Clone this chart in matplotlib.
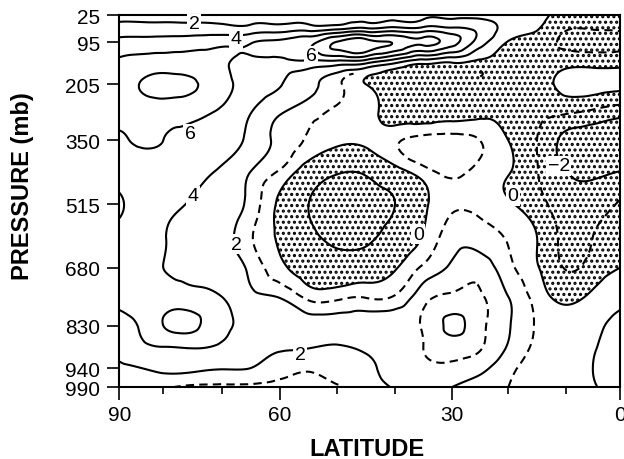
import numpy as np
import matplotlib
matplotlib.use("Agg")
import matplotlib.pyplot as plt
import matplotlib.tri as mtri
from matplotlib.ticker import FixedLocator, NullLocator

plt.rcParams['font.family'] = ['Liberation Sans', 'DejaVu Sans']
plt.rcParams['hatch.color'] = 'black'
plt.rcParams['hatch.linewidth'] = 1.5

# grid
lat = np.array([90, 85, 80, 75, 70, 65, 60, 55, 50, 45, 40, 35, 30, 25, 20, 15, 10, 5, 0])
pressure = np.array([25, 60, 95, 150, 205, 280, 350, 430, 515, 600, 680, 755, 830, 885, 940, 990])
field = np.array([
    [1.3, 1.3, 1.3, 1.3, 1.3, 1.3, 1.3, 1.3, 1.3, 1.3, 1.3, 1.3, 1.3, 1.2, 1.05, 0.4, -0.4, -0.5, -0.5],
    [2.8, 2.8, 2.8, 2.8, 2.7, 2.7, 2.9, 3.1, 3.5, 4.2, 4.6, 4.6, 4.3, 3.4, 1.2, 0.1, -0.9, -0.95, -0.9],
    [4.6, 4.7, 4.8, 5.0, 5.4, 5.8, 6.4, 7.5, 10.1, 11.0, 9.8, 8.5, 6.8, 3.0, -0.1, -0.6, -1.2, -1.3, -1.2],
    [6.4, 6.8, 7.0, 7.0, 6.3, 5.3, 5.2, 5.2, 4.8, 4.1, 2.0, 0.3, -0.2, -0.5, -0.5, -0.6, -0.3, -0.3, -0.3],
    [7.3, 8.1, 8.6, 8.2, 6.8, 5.0, 4.1, 2.5, 1.2, 0.0, -0.7, -0.7, -0.7, -0.7, -0.7, -0.5, 0.3, 0.4, 0.3],
    [6.5, 6.7, 6.8, 6.5, 5.6, 4.0, 2.1, 1.3, 0.8, 0.4, -0.4, -0.4, -0.3, -0.2, -0.4, -0.8, -0.95, -1.3, -1.7],
    [5.9, 6.1, 6.0, 5.6, 5.0, 3.4, 1.6, 0.9, 0.25, 0.3, 0.8, 1.4, 1.5, 1.0, 0.0, -1.0, -2.3, -2.5, -2.5],
    [5.0, 5.1, 5.0, 4.5, 3.7, 2.0, 0.9, -0.8, -1.8, -1.7, -0.5, 0.6, 1.3, 0.6, 0.05, -0.95, -2.0, -2.2, -2.0],
    [3.8, 4.4, 4.3, 3.9, 3.0, 1.6, -0.3, -2.0, -2.6, -2.6, -2.0, -0.3, 0.8, 0.6, 0.1, -0.6, -1.6, -1.5, -0.9],
    [4.5, 4.5, 4.1, 3.2, 2.5, 1.1, -0.2, -1.5, -2.5, -2.4, -1.2, 0.1, 1.5, 1.5, 0.9, 0.0, -1.2, -1.0, -0.6],
    [4.3, 4.1, 4.0, 3.5, 3.0, 1.7, 0.3, -0.6, -1.0, -0.8, -0.1, 1.2, 2.2, 2.6, 1.3, 0.1, -1.05, -0.6, 0.0],
    [4.2, 4.5, 4.9, 4.7, 4.0, 2.4, 1.9, 0.7, 0.7, 0.9, 1.1, 2.6, 3.2, 3.1, 2.0, 0.6, -0.3, 0.2, 0.3],
    [3.4, 4.3, 6.0, 6.4, 4.6, 3.4, 2.8, 2.6, 2.5, 2.6, 2.8, 3.1, 4.2, 3.3, 2.1, 0.9, 0.5, 0.3, -0.5],
    [2.6, 3.6, 4.0, 4.2, 3.7, 2.6, 2.2, 2.1, 1.9, 2.2, 2.5, 3.0, 3.5, 3.1, 1.9, 0.8, 0.5, 0.1, -0.6],
    [1.8, 2.0, 2.3, 2.3, 2.1, 2.0, 1.4, 1.1, 1.4, 1.8, 2.4, 2.8, 2.8, 2.3, 1.3, 0.6, 0.5, 0.0, -0.8],
    [1.5, 1.3, 1.1, 0.8, 0.8, 0.7, 0.7, 0.8, 0.9, 1.5, 2.1, 2.5, 2.0, 1.5, 1.0, 0.6, 0.4, 0.1, -0.6],
])

pressure_ticks = [25, 95, 205, 350, 515, 680, 830, 940, 990]
lat_ticks = [90, 60, 30, 0]
lat_minor = [80, 70, 50, 40, 20, 10]

solid_levels = [-2, 0, 2, 4, 6, 8, 10]
contour_labels = [
    ("2", 74.7, 48), ("4", 67.5, 87), ("6", 54.6, 131), ("6", 75.4, 333),
    ("4", 74.9, 494), ("2", 67.4, 619), ("0", 35.9, 593), ("0", 19.2, 494),
    ("\u22122", 11.2, 416), ("2", 56.5, 904),
]

# the latitude axis of the original is squeezed between 90 and 80
knot_lat = np.array([-90, 0, 10, 20, 30, 40, 50, 60, 70, 80, 90, 180])
knot_pos = np.array([-515, 0, 54.3, 111.7, 168.3, 225, 282.7, 340, 398.3, 456.7, 500.7, 1001])


def fwd(v):
    return np.interp(v, knot_lat, knot_pos)


def inv(v):
    return np.interp(v, knot_pos, knot_lat)


# smooth the grid in screen-like units
yscale = 0.3858
X, Y = np.meshgrid(fwd(lat), pressure * yscale)
tri = mtri.Triangulation(X.ravel(), Y.ravel())
interp = mtri.CubicTriInterpolator(tri, field.ravel(), kind='min_E')
xf = np.linspace(0, 500.7, 420)
yf = np.linspace(25 * yscale, 990 * yscale, 320)
XF, YF = np.meshgrid(xf, yf)
ZF = np.ma.filled(interp(XF, YF), np.nan)
LATF = inv(XF)
PF = YF / yscale

fig = plt.figure(figsize=(6.24, 4.6), dpi=100)
ax = fig.add_axes([119.3 / 624, 1 - 388.3 / 460, 500.7 / 624, 372.3 / 460])
ax.set_xscale('function', functions=(fwd, inv))

shade = np.ma.masked_where((LATF < 6) & (PF > 770), ZF)
ax.contourf(LATF, PF, shade, levels=[-20, 0], colors='none', hatches=['...'])
ax.contour(LATF, PF, ZF, levels=solid_levels, colors='black',
           linewidths=1.5, linestyles='solid')
dash = (0, (4, 2.5))
ax.contour(LATF, PF, np.ma.masked_where((PF < 205) & (LATF < 47), ZF), levels=[1],
           colors='black', linewidths=1.5, linestyles=[dash])
ax.contour(LATF, PF, np.ma.masked_where(~((LATF < 40) & (PF > 600)), ZF), levels=[3],
           colors='black', linewidths=1.5, linestyles=[dash])
ax.contour(LATF, PF, np.ma.masked_where(LATF > 25, ZF), levels=[-1],
           colors='black', linewidths=1.5, linestyles=[dash])

for s, la, p in contour_labels:
    ax.text(la, p, s, ha='center', va='center', fontsize=14, zorder=5,
            bbox=dict(boxstyle='square,pad=0.08', fc='white', ec='none'))

ax.set_xlim(90, 0)
ax.set_ylim(990, 25)
ax.xaxis.set_major_locator(FixedLocator(lat_ticks))
ax.xaxis.set_minor_locator(FixedLocator(lat_minor))
ax.set_xticklabels([str(v) for v in lat_ticks])
ax.yaxis.set_major_locator(FixedLocator(pressure_ticks))
ax.yaxis.set_minor_locator(NullLocator())
ax.set_yticklabels([str(v) for v in pressure_ticks])

ax.tick_params(axis='x', which='major', length=9.5, width=1.2, pad=3.5, labelsize=15)
ax.tick_params(axis='x', which='minor', length=5, width=1.2)
ax.tick_params(axis='y', which='major', length=9, width=1.2, pad=5, labelsize=15)
for sp in ax.spines.values():
    sp.set_linewidth(1.5)

fig.text(23 / 624, 1 - 186 / 460, 'PRESSURE (mb)', rotation=90, ha='center',
         va='center', fontsize=17, fontweight='bold')
fig.text(367 / 624, 1 - 450 / 460, 'LATITUDE', ha='center', va='center',
         fontsize=17, fontweight='bold')

fig.savefig('out.png', dpi=100)
